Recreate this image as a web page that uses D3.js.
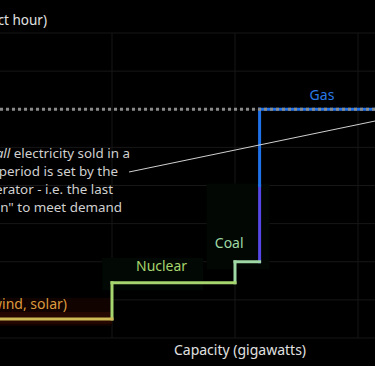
<!DOCTYPE html>
<html>
<head>
<meta charset="utf-8">
<script src="https://cdn.jsdelivr.net/npm/d3@7"></script>
<style>
  html, body { margin: 0; padding: 0; background: #000; }
  body { width: 375px; height: 366px; overflow: hidden; }
  svg { display: block; font-family: "Noto Sans", "Open Sans", sans-serif; }
</style>
</head>
<body>
<div class="chart"></div>
<script>

var svgWidth = 375;
var svgHeight = 366;

// chart is cropped: the 0 GW edge sits off to the left
var margin = { top: 33, right: -1, bottom: 28, left: -11 };

var width = svgWidth - margin.left - margin.right;
var height = svgHeight - margin.top - margin.bottom;

// data
var sources = ["Renewables (hydro, wind, solar)", "Nuclear", "Coal", "Gas"];
var capStart = [0, 10, 20, 22];
var capEnd = [10, 20, 22, 36];
var prices = [5, 14.5, 20, 60];
var lineColors = ["#cfb957", "#a6d46e", "#9fd9a6", "#1f72ea"];
var labelColors = ["#dc9a3e", "#a6d46e", "#9fd9a6", "#2a7ae6"];
var gasRiseSplit = 40; // price where the gas riser turns from violet to blue

var xTicks = [0, 10, 20, 30];
var yTicks = [0, 10, 20, 30, 40, 50, 60, 70, 80];

var clearingPrice = 60;

var svg = d3
  .select(".chart")
  .append("svg")
  .attr("width", svgWidth)
  .attr("height", svgHeight);

var chart = svg
  .append("g")
  .attr("transform", "translate(" + margin.left + "," + margin.top + ")");

var xLinearScale = d3.scaleLinear().domain([0, 30]).range([0, 369]);
var yLinearScale = d3.scaleLinear().domain([0, 80]).range([height, 0]);

// grid
chart
  .append("g")
  .selectAll("line.hgrid")
  .data(yTicks)
  .enter()
  .append("line")
  .attr("x1", 0)
  .attr("x2", width + 20)
  .attr("y1", function(d) { return yLinearScale(d); })
  .attr("y2", function(d) { return yLinearScale(d); })
  .attr("stroke", "#171717")
  .attr("stroke-width", 1);

chart
  .append("g")
  .selectAll("line.vgrid")
  .data(xTicks)
  .enter()
  .append("line")
  .attr("x1", function(d) { return xLinearScale(d); })
  .attr("x2", function(d) { return xLinearScale(d); })
  .attr("y1", yLinearScale(80))
  .attr("y2", height)
  .attr("stroke", "#171717")
  .attr("stroke-width", 1);

// soft label backdrops
var glow = [
  { x0: capStart[0], x1: capEnd[0], p0: 3.2, p1: 10.5, fill: "#110300" },
  { x0: 9.2, x1: 17.4, p0: 12.5, p1: 21, fill: "#020803" },
  { x0: 17.7, x1: 22.8, p0: 18, p1: 40.5, fill: "#020703" }
];
chart
  .append("g")
  .selectAll("rect")
  .data(glow)
  .enter()
  .append("rect")
  .attr("x", function(d) { return xLinearScale(d.x0); })
  .attr("width", function(d) { return xLinearScale(d.x1) - xLinearScale(d.x0); })
  .attr("y", function(d) { return yLinearScale(d.p1); })
  .attr("height", function(d) { return yLinearScale(d.p0) - yLinearScale(d.p1); })
  .attr("fill", function(d) { return d.fill; });

// band right under the renewables step
chart
  .append("rect")
  .attr("x", xLinearScale(capStart[0]))
  .attr("width", xLinearScale(capEnd[0]) - xLinearScale(capStart[0]))
  .attr("y", yLinearScale(prices[0]) - 7)
  .attr("height", 12)
  .attr("fill", "#230700");

// risers between steps
var risers = [];
for (var i = 1; i < sources.length; i++) {
  risers.push({ x: capStart[i], from: prices[i - 1], to: prices[i], color: lineColors[i] });
}
// gas riser: violet lower part
risers[2] = { x: capStart[3], from: prices[2], to: gasRiseSplit, color: "#5548e6" };
risers.push({ x: capStart[3], from: gasRiseSplit, to: prices[3], color: lineColors[3] });

chart
  .append("g")
  .selectAll("line")
  .data(risers)
  .enter()
  .append("line")
  .attr("x1", function(d) { return xLinearScale(d.x); })
  .attr("x2", function(d) { return xLinearScale(d.x); })
  .attr("y1", function(d) { return yLinearScale(d.from) + 1.5; })
  .attr("y2", function(d) { return yLinearScale(d.to) - 1.5; })
  .attr("stroke", function(d) { return d.color; })
  .attr("stroke-width", 3);

// steps
chart
  .append("g")
  .selectAll("line")
  .data(sources)
  .enter()
  .append("line")
  .attr("x1", function(d, i) { return xLinearScale(capStart[i]) - 1.5; })
  .attr("x2", function(d, i) { return xLinearScale(capEnd[i]) + 1.5; })
  .attr("y1", function(d, i) { return yLinearScale(prices[i]); })
  .attr("y2", function(d, i) { return yLinearScale(prices[i]); })
  .attr("stroke", function(d, i) { return lineColors[i]; })
  .attr("stroke-width", 3);

// clearing price dotted line
chart
  .append("line")
  .attr("x1", 0)
  .attr("x2", width + 20)
  .attr("y1", yLinearScale(clearingPrice))
  .attr("y2", yLinearScale(clearingPrice))
  .attr("stroke", "#8a8a8a")
  .attr("stroke-width", 3)
  .attr("stroke-dasharray", "3,3")
  .attr("stroke-dashoffset", 1);

// source labels
var labelPos = [
  { dx: -45, anchor: "end", dp: 2.5, x: capEnd[0] },
  { dx: 24, anchor: "start", dp: 3, x: capStart[1] },
  { dx: -16, anchor: "end", dp: 3.5, x: capEnd[2] },
  { dx: 50, anchor: "start", dp: 2.5, x: capStart[3] }
];
chart
  .append("g")
  .selectAll("text")
  .data(sources)
  .enter()
  .append("text")
  .attr("x", function(d, i) { return xLinearScale(labelPos[i].x) + labelPos[i].dx; })
  .attr("y", function(d, i) { return yLinearScale(prices[i] + labelPos[i].dp); })
  .attr("text-anchor", function(d, i) { return labelPos[i].anchor; })
  .attr("fill", function(d, i) { return labelColors[i]; })
  .attr("font-size", "14px")
  .text(function(d) { return d; });

// annotation
var note = svg
  .append("text")
  .attr("fill", "#d0d0d0")
  .attr("font-size", "13.4px")
  .attr("text-anchor", "end");

var noteLines = [
  { x: 130, y: 158, parts: [["The price for ", false], ["all", true], [" electricity sold in a", false]] },
  { x: 118, y: 176, parts: [["given period is set by the", false]] },
  { x: 113, y: 194, parts: [["most expensive generator - i.e. the last", false]] },
  { x: 122, y: 212, parts: [["one \"switched on\" to meet demand", false]] }
];
noteLines.forEach(function(line) {
  line.parts.forEach(function(p, j) {
    var t = note.append("tspan").text(p[0]);
    if (j === 0) t.attr("x", line.x).attr("y", line.y);
    if (p[1]) t.attr("font-style", "italic");
  });
});

svg
  .append("line")
  .attr("x1", 129)
  .attr("y1", 172)
  .attr("x2", 380)
  .attr("y2", 120)
  .attr("stroke", "#d0d0d0")
  .attr("stroke-width", 1);

// axis titles
svg
  .append("text")
  .attr("x", 47)
  .attr("y", 25)
  .attr("text-anchor", "end")
  .attr("fill", "#e0e0e0")
  .attr("font-size", "13.5px")
  .text("Price (£ per product hour)");

svg
  .append("text")
  .attr("x", 240)
  .attr("y", 355)
  .attr("text-anchor", "middle")
  .attr("fill", "#e0e0e0")
  .attr("font-size", "14px")
  .text("Capacity (gigawatts)");

</script>
</body>
</html>
